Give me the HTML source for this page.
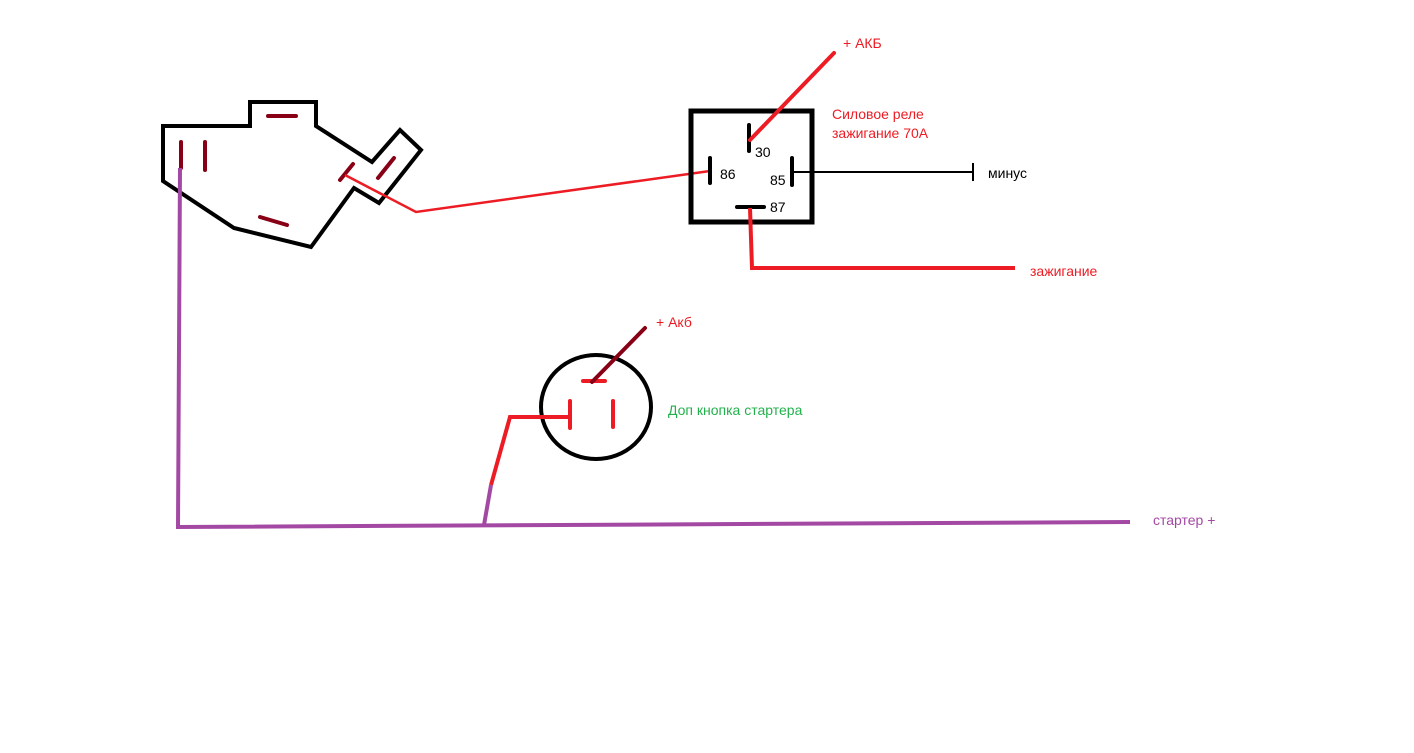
<!DOCTYPE html>
<html><head><meta charset="utf-8"><style>body{margin:0;background:#fff}svg{display:block}text{font-family:"Liberation Sans","DejaVu Sans",sans-serif;font-size:14px}</style></head>
<body>
<svg width="1414" height="753" viewBox="0 0 1414 753">
<polygon points="163,126 250,126 250,102 316,102 316,126 372,162 400,130 421,150 379,203 354,188 311,247 234,228 163,181" fill="none" stroke="#000" stroke-width="4" stroke-linejoin="miter"/>
<g stroke="#880015" stroke-width="4" stroke-linecap="round">
<line x1="181" y1="142" x2="181" y2="168"/><line x1="205" y1="142" x2="205" y2="170"/>
<line x1="268" y1="116" x2="296" y2="116"/><line x1="260" y1="217" x2="287" y2="225"/>
<line x1="340" y1="180" x2="353" y2="164"/><line x1="378" y1="178" x2="394" y2="158"/>
</g>
<polyline points="345,175 416,212 710,171" fill="none" stroke="#ed1c24" stroke-width="2.5"/>
<polyline points="180,168 178,527 1130,522" fill="none" stroke="#a349a4" stroke-width="4"/>
<rect x="691" y="111" width="121" height="111" fill="none" stroke="#000" stroke-width="5"/>
<g stroke="#000" stroke-width="4" stroke-linecap="round">
<line x1="749" y1="125" x2="749" y2="151"/><line x1="710" y1="158" x2="710" y2="183"/>
<line x1="792" y1="158" x2="792" y2="185"/><line x1="737" y1="207" x2="764" y2="207"/>
</g>
<line x1="792" y1="172" x2="973" y2="172" stroke="#000" stroke-width="2"/>
<line x1="973" y1="163" x2="973" y2="181" stroke="#000" stroke-width="2"/>
<line x1="750" y1="140" x2="834" y2="53" stroke="#ed1c24" stroke-width="4" stroke-linecap="round"/>
<polyline points="750,208 752,268 1015,268" fill="none" stroke="#ed1c24" stroke-width="4"/>
<text x="755" y="157">30</text><text x="720" y="179">86</text><text x="770" y="185">85</text><text x="770" y="212">87</text>
<text x="843" y="48" fill="#ed1c24">+ АКБ</text>
<text x="832" y="119" fill="#ed1c24">Силовое реле</text>
<text x="832" y="138" fill="#ed1c24">зажигание 70А</text>
<text x="988" y="178">минус</text>
<text x="1030" y="276" fill="#ed1c24">зажигание</text>
<ellipse cx="596" cy="407" rx="55" ry="52" fill="none" stroke="#000" stroke-width="4"/>
<g stroke="#ed1c24" stroke-width="4" stroke-linecap="round">
<line x1="583" y1="381" x2="605" y2="381"/><line x1="570" y1="401" x2="570" y2="428"/><line x1="613" y1="401" x2="613" y2="427"/>
</g>
<line x1="592" y1="382" x2="645" y2="328" stroke="#880015" stroke-width="4" stroke-linecap="round"/>
<polyline points="570,417 510,417 491,485" fill="none" stroke="#ed1c24" stroke-width="4"/>
<line x1="491" y1="485" x2="484" y2="525" stroke="#a349a4" stroke-width="4"/>
<text x="656" y="327" fill="#ed1c24">+ Акб</text>
<text x="668" y="415" fill="#22b14c">Доп кнопка стартера</text>
<text x="1153" y="525" fill="#a349a4">стартер +</text>
</svg>
</body></html>
